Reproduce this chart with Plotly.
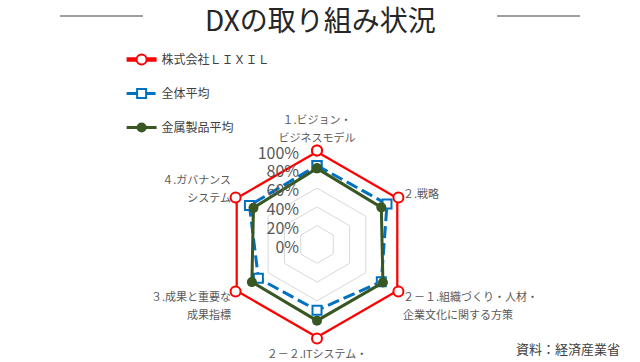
import plotly.graph_objects as go

categories = [
    "１.ビジョン・<br>ビジネスモデル",
    "２.戦略",
    "２－１.組織づくり・人材・<br>企業文化に関する方策",
    "２－２.ITシステム・",
    "３.成果と重要な<br>成果指標",
    "４.ガバナンス<br>システム",
]
lixil = [1.0, 1.0, 1.0, 1.0, 1.0, 1.0]
zentai = [0.84, 0.86, 0.79, 0.70, 0.72, 0.83]
kinzoku = [0.81, 0.79, 0.81, 0.81, 0.80, 0.78]
radial_ticks = [0, 0.2, 0.4, 0.6, 0.8, 1.0]

FONT = "Noto Sans CJK JP"

def closed(v):
    return v + v[:1]

def small(label):
    return "<br>".join(f"<span style='font-size:11px'>{s}</span>"
                       for s in label.split("<br>"))

theta = closed([small(c) for c in categories])

fig = go.Figure()
fig.add_trace(go.Scatterpolar(
    r=closed(lixil), theta=theta, name="株式会社ＬＩＸＩＬ",
    mode="lines+markers", legendgroup="a",
    line=dict(color="#FF0000", width=4.5),
    marker=dict(symbol="circle", size=10, color="white",
                line=dict(color="#FF0000", width=2)),
))
fig.add_trace(go.Scatterpolar(
    r=closed(zentai), theta=theta, name="全体平均",
    mode="lines+markers", legendgroup="b",
    line=dict(color="#0070C0", width=3, dash="12px,5px"),
    marker=dict(symbol="square", size=9, color="white",
                line=dict(color="#0070C0", width=2)),
))
fig.add_trace(go.Scatterpolar(
    r=closed(kinzoku), theta=theta, name="金属製品平均",
    mode="lines+markers", legendgroup="c",
    line=dict(color="#385723", width=3),
    marker=dict(symbol="circle", size=10, color="#385723"),
))

W, H = 640, 362
cx, cy, R = 317, 244.5, 94

fig.update_layout(
    width=W, height=H,
    margin=dict(l=0, r=0, t=0, b=0),
    paper_bgcolor="white",
    font=dict(family=FONT, color="#595959", size=11),
    polar=dict(
        domain=dict(x=[(cx - R) / W, (cx + R) / W],
                    y=[(H - cy - R) / H, (H - cy + R) / H]),
        bgcolor="white",
        gridshape="linear",
        angularaxis=dict(direction="clockwise", rotation=90,
                         showgrid=False, showline=False,
                         ticks="outside", ticklen=2,
                         tickcolor="rgba(0,0,0,0)",
                         tickfont=dict(size=14, color="#595959", family=FONT)),
        radialaxis=dict(range=[0, 1], tickvals=radial_ticks, tickformat=".0%",
                        angle=90, side="counterclockwise",
                        showline=False, ticks="outside", ticklen=3,
                        tickcolor="rgba(0,0,0,0)",
                        gridcolor="#D9D9D9", gridwidth=1,
                        tickfont=dict(size=16, color="#595959", family=FONT)),
    ),
    legend=dict(x=0.19, y=1 - 45 / H, xanchor="left", yanchor="top",
                traceorder="grouped", tracegroupgap=15,
                font=dict(size=12, color="#404040", family=FONT),
                bgcolor="rgba(0,0,0,0)"),
    showlegend=True,
)

fig.add_annotation(text="DXの取り組み状況", x=0.5, y=1 - 19 / H,
                   xref="paper", yref="paper", showarrow=False,
                   xanchor="center", yanchor="middle",
                   font=dict(size=28, color="#262626", family=FONT))
fig.add_annotation(text="資料：経済産業省", x=622 / W, y=1 - 348 / H,
                   xref="paper", yref="paper", showarrow=False,
                   xanchor="right", yanchor="middle",
                   font=dict(size=13, color="#404040", family=FONT))
for x0, x1 in [(60, 143), (497, 580)]:
    fig.add_shape(type="line", xref="paper", yref="paper",
                  x0=x0 / W, x1=x1 / W, y0=1 - 16 / H, y1=1 - 16 / H,
                  line=dict(color="#404040", width=1))

fig.write_html("out.html")
